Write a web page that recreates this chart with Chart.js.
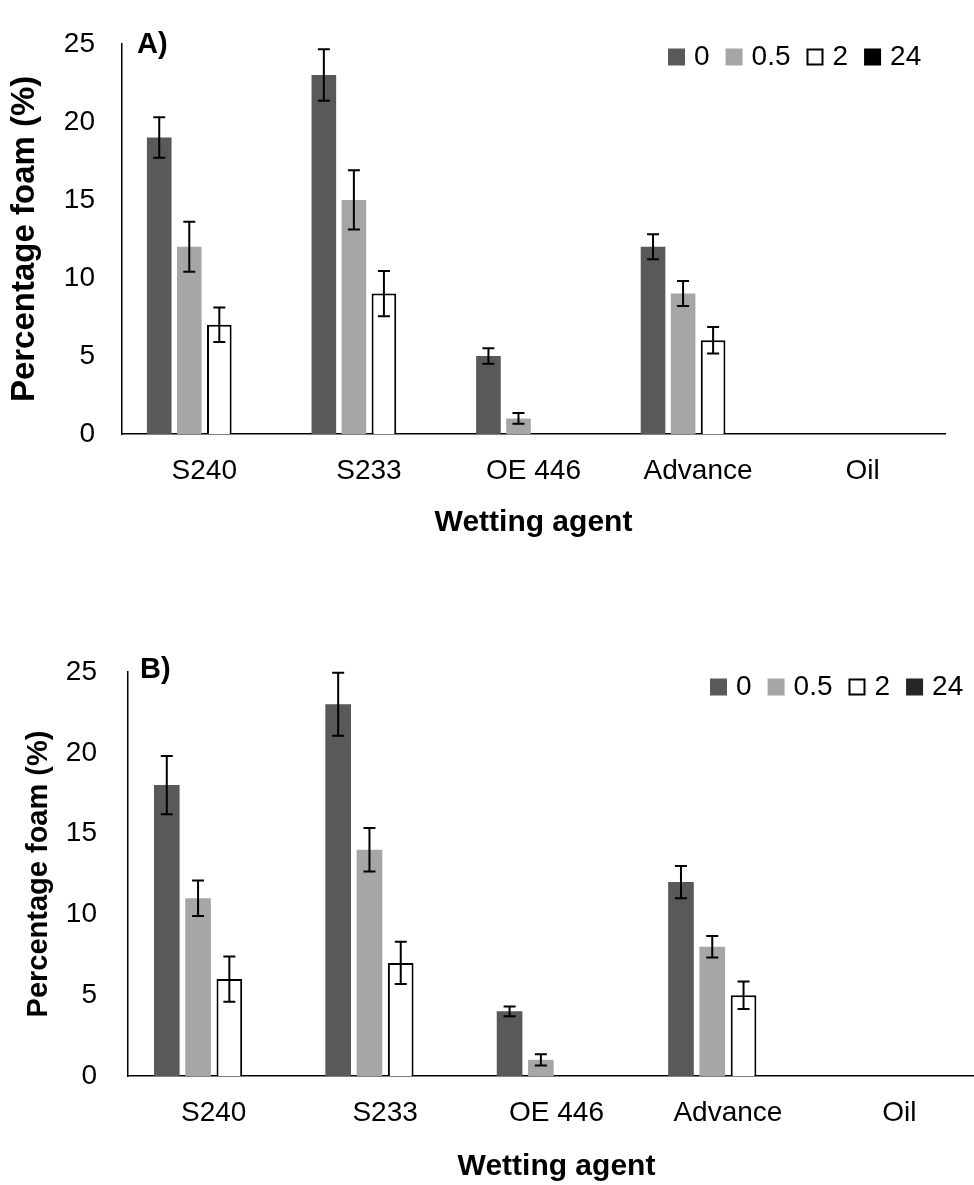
<!DOCTYPE html>
<html lang="en">
  <head>
    <meta charset="UTF-8" />
    <title>Percentage foam by wetting agent</title>
    <script src="https://cdn.jsdelivr.net/npm/chart.js"></script>
    <style>
      body { margin: 0; overflow: hidden; background: #fff; }
      canvas { position: absolute; left: 0; }
    </style>
  </head>
  <body>
    <canvas id="chartA" width="974" height="600" style="top: 0"></canvas>
    <canvas id="chartB" width="1000" height="585" style="top: 600px"></canvas>

    <script>
      // data
      const categories = ["S240", "S233", "OE 446", "Advance", "Oil"];
      const timeLabels = ["0", "0.5", "2", "24"];
      const yTickValues = [0, 5, 10, 15, 20, 25];

      // panel A
      const a0 = [19, 23, 5, 12, 0];
      const a0Err = [1.3, 1.65, 0.5, 0.8, 0];
      const a05 = [12, 15, 1, 9, 0];
      const a05Err = [1.6, 1.9, 0.35, 0.8, 0];
      const a2 = [7, 9, 0, 6, 0];
      const a2Err = [1.1, 1.45, 0, 0.85, 0];
      const a24 = [0, 0, 0, 0, 0];

      // panel B
      const b0 = [18, 23, 4, 12, 0];
      const b0Err = [1.8, 1.95, 0.3, 1.0, 0];
      const b05 = [11, 14, 1, 8, 0];
      const b05Err = [1.1, 1.35, 0.35, 0.67, 0];
      const b2 = [6, 7, 0, 5, 0];
      const b2Err = [1.4, 1.3, 0, 0.85, 0];
      const b24 = [0, 0, 0, 0, 0];

      Chart.defaults.font.family = '"Liberation Sans", Arial, sans-serif';
      Chart.defaults.color = "#000";

      // draws the +/- error caps from dataset.errors
      const errorBarPlugin = {
        id: "errorBars",
        afterDatasetsDraw(chart) {
          const ctx = chart.ctx;
          const yScale = chart.scales.y;
          ctx.save();
          ctx.strokeStyle = "#000";
          ctx.lineWidth = 2;
          chart.data.datasets.forEach((ds, di) => {
            if (!ds.errors) return;
            chart.getDatasetMeta(di).data.forEach((bar, i) => {
              const e = ds.errors[i];
              if (!e) return;
              const top = yScale.getPixelForValue(ds.data[i] + e);
              const bot = yScale.getPixelForValue(ds.data[i] - e);
              ctx.beginPath();
              ctx.moveTo(bar.x, top);
              ctx.lineTo(bar.x, bot);
              ctx.moveTo(bar.x - 6, top);
              ctx.lineTo(bar.x + 6, top);
              ctx.moveTo(bar.x - 6, bot);
              ctx.lineTo(bar.x + 6, bot);
              ctx.stroke();
            });
          });
          ctx.restore();
        },
      };

      // panel letter and the in-plot legend
      const panelPlugin = {
        id: "panel",
        afterDraw(chart, args, opts) {
          const ctx = chart.ctx;
          const area = chart.chartArea;
          ctx.save();
          ctx.textBaseline = "middle";
          ctx.textAlign = "left";
          ctx.fillStyle = "#000";
          ctx.font = "bold " + opts.labelSize + 'px "Liberation Sans", Arial, sans-serif';
          ctx.fillText(opts.label, area.left + opts.labelDx, opts.labelY);

          ctx.font = opts.legendSize + 'px "Liberation Sans", Arial, sans-serif';
          const box = 17;
          let x = area.right - opts.legendOffset;
          chart.data.datasets.forEach((ds) => {
            ctx.fillStyle = ds.backgroundColor;
            ctx.fillRect(x, opts.legendY - box / 2, box, box);
            if (ds.borderWidth) {
              ctx.strokeStyle = ds.borderColor;
              ctx.lineWidth = 2;
              ctx.strokeRect(x + 1, opts.legendY - box / 2 + 1, box - 2, box - 2);
            }
            x += box + 9;
            ctx.fillStyle = "#000";
            ctx.fillText(ds.label, x, opts.legendY);
            x += ctx.measureText(ds.label).width + 16;
          });
          ctx.restore();
        },
      };

      function makeDatasets(v0, e0, v05, e05, v2, e2, v24, color24) {
        const common = { categoryPercentage: 0.73, barPercentage: 0.82 };
        return [
          { ...common, label: timeLabels[0], data: v0, errors: e0, backgroundColor: "#595959", borderWidth: 0 },
          { ...common, label: timeLabels[1], data: v05, errors: e05, backgroundColor: "#a6a6a6", borderWidth: 0 },
          { ...common, label: timeLabels[2], data: v2, errors: e2, backgroundColor: "#ffffff", borderColor: "#000", borderWidth: 2 },
          { ...common, label: timeLabels[3], data: v24, backgroundColor: color24, borderWidth: 0 },
        ];
      }

      function makeChart(id, datasets, p) {
        new Chart(document.getElementById(id), {
          type: "bar",
          data: { labels: categories, datasets: datasets },
          plugins: [errorBarPlugin, panelPlugin],
          options: {
            responsive: false,
            animation: false,
            layout: { padding: { top: p.padTop, right: p.padRight, left: 0, bottom: 0 } },
            plugins: {
              legend: { display: false },
              tooltip: { enabled: false },
              panel: p.panel,
            },
            scales: {
              x: {
                grid: { display: false, drawTicks: false },
                border: { color: "#000", width: 1.5 },
                ticks: { font: { size: 28 }, padding: p.xTickPad, maxRotation: 0 },
                title: {
                  display: true,
                  text: "Wetting agent",
                  font: { size: 30, weight: "bold" },
                  padding: { top: 0, bottom: p.xTitlePad },
                },
                afterFit(scale) {
                  scale.height = p.xHeight;
                },
              },
              y: {
                min: 0,
                max: 25,
                grid: { display: false, drawTicks: false },
                border: { color: "#000", width: 1.5 },
                ticks: { font: { size: 28 }, padding: p.yTickPad },
                afterBuildTicks(scale) {
                  scale.ticks = yTickValues.map((v) => ({ value: v }));
                },
                title: {
                  display: true,
                  text: "Percentage foam (%)",
                  font: { size: p.yTitleSize, weight: "bold" },
                  padding: { top: p.yTitlePad, bottom: 0 },
                },
                afterFit(scale) {
                  scale.width = p.yWidth;
                },
              },
            },
          },
        });
      }

      makeChart("chartA", makeDatasets(a0, a0Err, a05, a05Err, a2, a2Err, a24, "#000000"), {
        padTop: 25,
        padRight: 29,
        xHeight: 166,
        xTickPad: 20,
        xTitlePad: 59,
        yWidth: 122,
        yTickPad: 27,
        yTitleSize: 33,
        yTitlePad: 5,
        panel: { label: "A)", labelSize: 29, labelDx: 15, labelY: 45, legendSize: 28, legendOffset: 277, legendY: 57 },
      });

      makeChart("chartB", makeDatasets(b0, b0Err, b05, b05Err, b2, b2Err, b24, "#262626"), {
        padTop: 72,
        padRight: 15,
        xHeight: 109,
        xTickPad: 20,
        xTitlePad: 0,
        yWidth: 128,
        yTickPad: 31,
        yTitleSize: 29,
        yTitlePad: 22,
        panel: { label: "B)", labelSize: 29, labelDx: 12, labelY: 70, legendSize: 28, legendOffset: 275, legendY: 87 },
      });
    </script>
  </body>
</html>
